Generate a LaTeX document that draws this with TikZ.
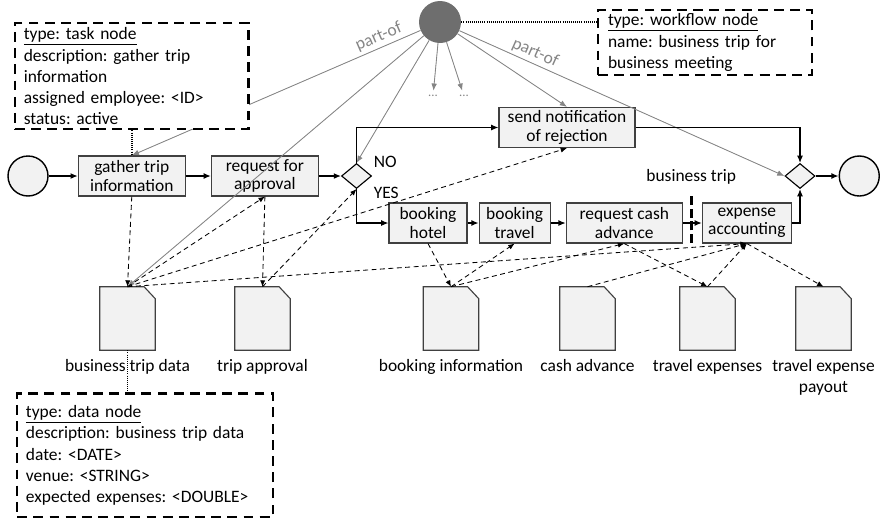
\documentclass[tikz,border=0pt]{standalone}
\usepackage{fontspec}
\setmainfont{Carlito}
\frenchspacing
\usepackage{tikz}
\usetikzlibrary{arrows.meta}
\usetikzlibrary{positioning}
\usetikzlibrary{shapes.geometric}
\usepackage{xcolor}
\definecolor{boxfill}{HTML}{F2F2F2}
\definecolor{boxline}{HTML}{404040}
\definecolor{partgrey}{HTML}{858585}
\definecolor{wfgrey}{HTML}{6E6E6E}

\begin{document}
\begin{tikzpicture}[
  node distance=0.6cm,
  task/.style={rectangle, draw=boxline, fill=boxfill, line width=0.8pt,
    minimum height=1.0cm, inner sep=1pt, align=center,
    font=\fontsize{12.4}{13.1}\selectfont},
  event/.style={circle, draw=black, fill=boxfill, line width=1pt,
    minimum size=1.0cm, inner sep=0pt},
  gateway/.style={diamond, draw=black, fill=boxfill, line width=0.8pt,
    minimum width=0.75cm, minimum height=0.625cm, inner sep=0pt},
  wfnode/.style={circle, fill=wfgrey, minimum size=1.05cm, inner sep=0pt},
  doc/.style={rectangle, minimum width=1.375cm, minimum height=1.575cm,
    inner sep=0pt},
  docline/.style={draw=boxline, fill=boxfill, line width=0.8pt},
  doctext/.style={align=center, inner sep=0pt,
    font=\fontsize{12.4}{15.1}\selectfont},
  callout/.style={rectangle, draw=black, fill=white, line width=1.6pt,
    dash pattern=on 7pt off 4.5pt, align=left, inner xsep=0.22cm,
    inner ysep=0.06cm, font=\fontsize{12.4}{15.1}\selectfont},
  plain/.style={inner sep=1pt, font=\fontsize{12.4}{13.1}\selectfont},
  partlabel/.style={inner sep=2pt, text=partgrey,
    font=\fontsize{12.4}{13.1}\selectfont},
  dots/.style={inner sep=3pt, text=partgrey, font=\small},
  flow/.style={-{Latex[length=1.8mm, width=1.5mm]}, line width=0.9pt},
  dataflow/.style={-{Latex[length=1.6mm, width=1.3mm]}, line width=0.6pt,
    dash pattern=on 3.5pt off 2.5pt},
  partof/.style={-{Latex[length=1.8mm, width=1.4mm]}, line width=0.6pt,
    draw=partgrey, fill=partgrey},
  note/.style={line width=1.2pt, dash pattern=on 0.6pt off 0.9pt},
  tripcut/.style={line width=2pt, dash pattern=on 6.5pt off 2.5pt},
]
\useasboundingbox (0,0) rectangle (22,-12.925);

% === Process flow ===
\node[event] (start) at (0.7,-4.4) {};
\node[task, minimum width=2.675cm, right=0.725cm of start] (gather) {gather trip\\information};
\node[task, minimum width=2.675cm, right=0.625cm of gather] (approval) {request for\\approval};
\node[gateway, right=0.55cm of approval] (dec) {};
\node[plain, anchor=west] (no) at ([yshift=0.35cm]dec.east) {NO};
\node[plain, anchor=west] (yes) at ([yshift=-0.41cm]dec.east) {YES};
\node[task, minimum width=3.4cm] (reject) at (14.175,-3.1875) {send notification\\of rejection};
\node[task, minimum width=1.95cm] (hotel) at (10.7,-5.575) {booking\\hotel};
\node[task, minimum width=1.775cm, right=0.275cm of hotel] (travel) {booking\\travel};
\node[task, minimum width=2.9cm, right=0.375cm of travel] (cash) {request cash\\advance};
\node[task, minimum width=2.225cm, right=0.475cm of cash] (expense) {expense\\accounting};
\node[gateway] (merge) at (20,-4.4) {};
\node[event, right=0.575cm of merge] (end) {};

% business trip boundary
\coordinate[right=0.21cm of cash] (cut);
\draw[tripcut] ([yshift=-0.5cm]cut) -- ([yshift=0.75cm]cut);
\node[plain] (triplabel) at ([yshift=1.15cm]cut) {business trip};

% === Data objects (folded corner drawn on top of each box) ===
\node[doc] (tripdata) at (3.1875,-7.9625) {};
\node[doc] (approvaldoc) at (6.5625,-7.9625) {};
\node[doc] (bookingdoc) at (11.275,-7.9625) {};
\node[doc] (cashdoc) at (14.6875,-7.9625) {};
\node[doc] (expdoc) at (17.6875,-7.9625) {};
\node[doc] (payoutdoc) at (20.5875,-7.9625) {};
\foreach \d in {tripdata, approvaldoc, bookingdoc, cashdoc, expdoc, payoutdoc}
  \draw[docline] (\d.south west) -- (\d.north west) -- ([xshift=-0.28cm]\d.north east)
    -- ([yshift=-0.3cm]\d.north east) -- (\d.south east) -- cycle;
\node[doctext, below=0.22cm of tripdata] (tripdatatext) {business trip data};
\node[doctext, below=0.22cm of approvaldoc] (approvaldoctext) {trip approval};
\node[doctext, below=0.22cm of bookingdoc] (bookingdoctext) {booking information};
\node[doctext, below=0.22cm of cashdoc] (cashdoctext) {cash advance};
\node[doctext, below=0.22cm of expdoc] (expdoctext) {travel expenses};
\node[doctext, below=0.22cm of payoutdoc] (payoutdoctext) {travel expense\\payout};

% === Workflow node and part-of edges ===
\node[wfnode] (wf) at (11.0,-0.55) {};
\node[dots] (more1) at (10.825,-2.4) {...};
\node[dots] (more2) at (11.6,-2.4) {...};
\draw[partof] (wf) -- node[partlabel, pos=0.13, sloped, above] (partleft) {part-of} (gather.north);
\draw[partof] (wf) -- (tripdata.north);
\draw[partof] (wf) -- (dec.north);
\draw[partof] (wf) -- (more1);
\draw[partof] (wf) -- (more2);
\draw[partof] (wf) -- (reject.north);
\draw[partof] (wf) -- node[partlabel, pos=0.22, sloped, above] (partright) {part-of} (merge.west);

% === Attribute boxes ===
\node[callout, text width=5.4cm, minimum height=2.65cm, above=0.625cm of gather] (taskinfo)
  {\underline{type: task node}\\description: gather trip\\information\\assigned employee: <ID>\\status: active};
\node[callout, text width=4.85cm, inner xsep=0.25cm, minimum height=1.625cm] (wfinfo) at (17.625,-1.0625)
  {\underline{type: workflow node}\\name: business trip for\\business meeting};
\node[callout, text width=5.95cm, minimum height=3.1cm, below=1.05cm of tripdata, xshift=0.4375cm] (datainfo)
  {\underline{type: data node}\\description: business trip data\\date: <DATE>\\venue: <STRING>\\expected expenses: <DOUBLE>};
\draw[note] (taskinfo.south) -- (gather.north);
\draw[note] (wf.east) -- (wf.east -| wfinfo.west);
\draw[note] (tripdata.south) -- (tripdata.south |- datainfo.north);

% === Sequence flow ===
\draw[flow] (start) -- (gather);
\draw[flow] (gather) -- (approval);
\draw[flow] (approval) -- (dec);
\draw[flow] (dec.north) |- (reject.west);
\draw[flow] (dec.south) |- (hotel.west);
\draw[flow] (hotel) -- (travel);
\draw[flow] (travel) -- (cash);
\draw[flow] (cash) -- (expense);
\draw[flow] (expense.east) -| (merge.south);
\draw[flow] (reject.east) -| (merge.north);
\draw[flow] (merge) -- (end);

% === Data associations ===
\draw[dataflow] (gather.south) -- (tripdata.north);
\draw[dataflow] (tripdata.north) -- (approval.south);
\draw[dataflow] (approval.south) -- (approvaldoc.north);
\draw[dataflow] (approvaldoc.north) -- (dec.south);
\draw[dataflow] (tripdata.north) -- (reject.south);
\draw[dataflow] (tripdata.north) -- (expense.south);
\draw[dataflow] (hotel.south) -- (bookingdoc.north);
\draw[dataflow] (bookingdoc.north) -- (travel.south);
\draw[dataflow] (bookingdoc.north) -- (cash.south);
\draw[dataflow] (cash.south) -- (expdoc.north);
\draw[dataflow] (cashdoc.north) -- (expense.south);
\draw[dataflow] (expdoc.north) -- (expense.south);
\draw[dataflow] (expense.south) -- (payoutdoc.north);
\end{tikzpicture}
\end{document}
